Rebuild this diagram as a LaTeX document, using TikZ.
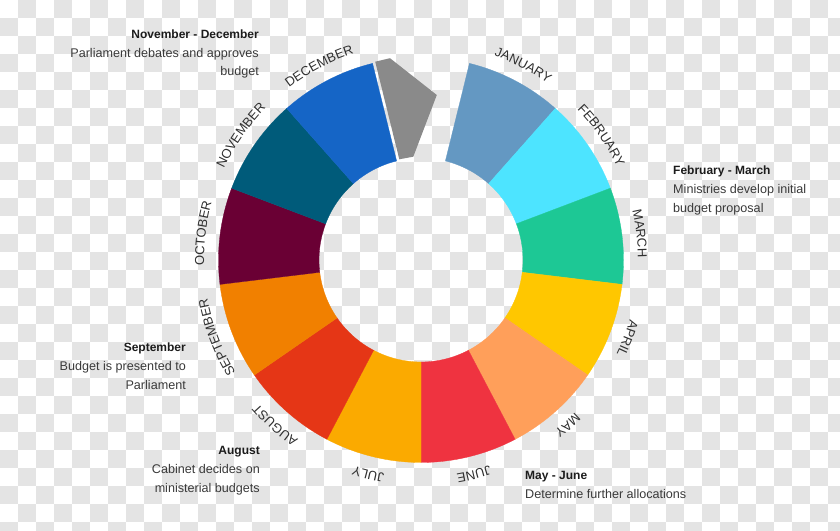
\documentclass[tikz,border=0pt]{standalone}
\usepackage{fontspec}
\setmainfont{Liberation Sans}
\usetikzlibrary{decorations.text}
\definecolor{checkgray}{HTML}{E4E4E4}
\definecolor{cjan}{HTML}{6498C2}
\definecolor{cfeb}{HTML}{4DE4FF}
\definecolor{cmar}{HTML}{1DC895}
\definecolor{capr}{HTML}{FFC700}
\definecolor{cmay}{HTML}{FF9F5A}
\definecolor{cjun}{HTML}{EF3340}
\definecolor{cjul}{HTML}{FBAA00}
\definecolor{caug}{HTML}{E53616}
\definecolor{csep}{HTML}{F18000}
\definecolor{coct}{HTML}{6A0034}
\definecolor{cnov}{HTML}{005B7A}
\definecolor{cdec}{HTML}{1565C6}
\definecolor{cgap}{HTML}{8A8A8A}
\definecolor{titlecol}{HTML}{1C1C1C}
\definecolor{bodycol}{HTML}{3A3A3A}
\definecolor{monthcol}{HTML}{303030}
\newcommand\monthfont{\fontsize{13}{15}\selectfont}
\newcommand\mymonthlabel[2]{%
  \path[decorate,decoration={text along path,text={|\monthfont|#2},text align=center,text color=monthcol}]
    ({#1+35}:217) arc[start angle={#1+35},end angle={#1-35},radius=217];}
\tikzset{
  titletext/.style={inner sep=0pt,text=titlecol,font=\bfseries\fontsize{12}{14}\selectfont},
  bodytext/.style={inner sep=0pt,text=bodycol,font=\fontsize{12.6}{15}\selectfont}
}
\begin{document}
\begin{tikzpicture}[x=1pt,y=1pt]
\useasboundingbox (0,0) rectangle (840,530);
\fill[white] (0,0) rectangle (840,530);
% checkered background
\foreach \j in {0,...,29}{
  \foreach \i in {0,...,46}{
    \pgfmathtruncatemacro\cbodd{mod(\i+\j,2)}
    \ifnum\cbodd=1
      \fill[checkgray] (\i*18,530-\j*18) rectangle ++(18,-18);
    \fi
  }
}
% ring segments
\begin{scope}[shift={(421,270)}]
\foreach \k/\c in {1/cjan,2/cfeb,3/cmar,4/capr,5/cmay,6/cjun,7/cjul,8/caug,9/csep,10/coct,11/cnov,12/cdec}{
  \pgfmathsetmacro\a{90-13.846-(\k-1)*27.692}
  \pgfmathsetmacro\b{\a-27.692}
  \filldraw[fill=\c,draw=\c,line width=0.3pt] (\a:202.5) arc[start angle=\a,end angle=\b,radius=202.5]
    -- (\b:102) arc[start angle=\b,end angle=\a,radius=102] -- cycle;
}
% month labels
\mymonthlabel{62.31}{JANUARY}
\mymonthlabel{34.62}{FEBRUARY}
\mymonthlabel{6.92}{MARCH}
\mymonthlabel{-20.77}{APRIL}
\mymonthlabel{-48.46}{MAY}
\mymonthlabel{-76.15}{JUNE}
\mymonthlabel{-103.85}{JULY}
\mymonthlabel{-131.54}{AUGUST}
\mymonthlabel{-159.23}{SEPTEMBER}
\mymonthlabel{-186.92}{OCTOBER}
\mymonthlabel{-214.62}{NOVEMBER}
\mymonthlabel{-242.31}{DECEMBER}
\end{scope}
% detached grey piece
\fill[cgap] (375.2,468.3) -- (390,471.8) -- (436.8,435) -- (413.3,373.3) -- (399.3,370.7) -- cycle;
% callouts
\node[titletext,anchor=base east] (nd1) at (259,491) {November - December};
\node[bodytext,anchor=base east] (nd2) at (259,472.3) {Parliament debates and approves};
\node[bodytext,anchor=base east] (nd3) at (259,454) {budget};
\node[titletext,anchor=base west] (fm1) at (673,355) {February - March};
\node[bodytext,anchor=base west] (fm2) at (673,336) {Ministries develop initial};
\node[bodytext,anchor=base west] (fm3) at (673,317) {budget proposal};
\node[titletext,anchor=base east] (se1) at (186,178) {September};
\node[bodytext,anchor=base east] (se2) at (186,159) {Budget is presented to};
\node[bodytext,anchor=base east] (se3) at (186,140) {Parliament};
\node[titletext,anchor=base east] (au1) at (260,76) {August};
\node[bodytext,anchor=base east] (au2) at (260,56.7) {Cabinet decides on};
\node[bodytext,anchor=base east] (au3) at (260,37.7) {ministerial budgets};
\node[titletext,anchor=base west] (mj1) at (525,50.7) {May - June};
\node[bodytext,anchor=base west] (mj2) at (525,31.7) {Determine further allocations};
\end{tikzpicture}
\end{document}
